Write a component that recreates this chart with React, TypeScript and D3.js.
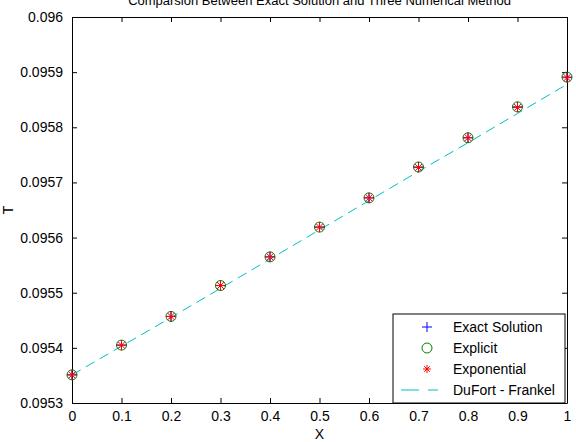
import React, { useEffect, useRef } from 'react'
import * as d3 from 'd3'

const xValues = [0, 0.1, 0.2, 0.3, 0.4, 0.5, 0.6, 0.7, 0.8, 0.9, 1.0]
const exactValues = [0.095351, 0.095405, 0.095457, 0.095513, 0.095565, 0.095619, 0.095672, 0.095728, 0.095781, 0.095837, 0.095891]
const explicitValues = [0.095351, 0.095405, 0.095457, 0.095513, 0.095565, 0.095619, 0.095672, 0.095728, 0.095781, 0.095837, 0.095891]
const exponentialValues = [0.095351, 0.095405, 0.095457, 0.095513, 0.095565, 0.095619, 0.095672, 0.095727, 0.095781, 0.095836, 0.095890]
const dufortValues = [0.095351, 0.095403, 0.095455, 0.095508, 0.095561, 0.095614, 0.095667, 0.095720, 0.095772, 0.095825, 0.095878]
const xTicks = [0, 0.1, 0.2, 0.3, 0.4, 0.5, 0.6, 0.7, 0.8, 0.9, 1]
const yTicks = [0.0953, 0.0954, 0.0955, 0.0956, 0.0957, 0.0958, 0.0959, 0.096]
const legendLabels = ['Exact Solution', 'Explicit', 'Exponential', 'DuFort - Frankel']

const W = 576
const H = 442
const left = 72
const right = 567
const top = 17
const bottom = 403
const font = 'Liberation Sans, Arial, sans-serif'

function App() {
    const ref = useRef<SVGSVGElement>(null)

    useEffect(() => {
        const svg = d3.select(ref.current)
        svg.selectAll('*').remove()

        const x = d3.scaleLinear().domain([0, 1]).range([left, right])
        const y = d3.scaleLinear().domain([0.0953, 0.096]).range([bottom, top])

        svg.append('rect').attr('width', W).attr('height', H).attr('fill', '#fff')

        // title (cut off at top like the original)
        svg.append('text')
            .attr('x', (left + right) / 2).attr('y', 5)
            .attr('text-anchor', 'middle')
            .attr('font-family', font).attr('font-size', 13)
            .text('Comparsion Between Exact Solution and Three Numerical Method')

        /* axes with inward ticks on all sides */
        const fmtX = (d: number) => String(+d.toFixed(1))
        const fmtY = (d: number) => String(+d.toFixed(4))

        const axisB = d3.axisBottom(x).tickValues(xTicks).tickSizeInner(-5).tickSizeOuter(0).tickPadding(8).tickFormat(fmtX as any)
        const axisT = d3.axisTop(x).tickValues(xTicks).tickSizeInner(-5).tickSizeOuter(0).tickFormat(() => '')
        const axisL = d3.axisLeft(y).tickValues(yTicks).tickSizeInner(-5).tickSizeOuter(0).tickPadding(9).tickFormat(fmtY as any)
        const axisR = d3.axisRight(y).tickValues(yTicks).tickSizeInner(-5).tickSizeOuter(0).tickFormat(() => '')

        const gB = svg.append('g').attr('transform', `translate(0,${bottom})`).call(axisB)
        const gT = svg.append('g').attr('transform', `translate(0,${top})`).call(axisT)
        const gL = svg.append('g').attr('transform', `translate(${left},0)`).call(axisL)
        const gR = svg.append('g').attr('transform', `translate(${right},0)`).call(axisR)
        for (const g of [gB, gT, gL, gR]) {
            g.selectAll('path').attr('stroke', '#000').attr('stroke-width', 1)
            g.selectAll('line').attr('stroke', '#000')
            g.selectAll('text').attr('font-family', font).attr('font-size', 14).attr('fill', '#000')
        }

        svg.append('text')
            .attr('x', (left + right) / 2).attr('y', 439)
            .attr('text-anchor', 'middle')
            .attr('font-family', font).attr('font-size', 14)
            .text('X')
        svg.append('text')
            .attr('transform', `translate(13,${(top + bottom) / 2}) rotate(-90)`)
            .attr('text-anchor', 'middle')
            .attr('font-family', font).attr('font-size', 14)
            .text('T')

        /* DuFort - Frankel dashed line */
        const line = d3.line<number>().x((d, i) => x(xValues[i])).y((d) => y(d))
        svg.append('path')
            .attr('d', line(dufortValues))
            .attr('fill', 'none')
            .attr('stroke', '#00bfbf')
            .attr('stroke-width', 1)
            .attr('stroke-dasharray', '10,6')

        const plus = (g: any, cx: number, cy: number, r: number, c: string) => {
            g.append('line').attr('x1', cx - r).attr('x2', cx + r).attr('y1', cy).attr('y2', cy).attr('stroke', c)
            g.append('line').attr('x1', cx).attr('x2', cx).attr('y1', cy - r).attr('y2', cy + r).attr('stroke', c)
        }
        const star = (g: any, cx: number, cy: number, r: number, c: string) => {
            plus(g, cx, cy, r, c)
            const k = r * 0.7
            g.append('line').attr('x1', cx - k).attr('x2', cx + k).attr('y1', cy - k).attr('y2', cy + k).attr('stroke', c)
            g.append('line').attr('x1', cx - k).attr('x2', cx + k).attr('y1', cy + k).attr('y2', cy - k).attr('stroke', c)
        }
        const circle = (g: any, cx: number, cy: number, r: number, c: string) => {
            g.append('circle').attr('cx', cx).attr('cy', cy).attr('r', r).attr('fill', 'none').attr('stroke', c)
        }

        const marks = svg.append('g')
        xValues.forEach((xv, i) => circle(marks, x(xv), y(explicitValues[i]), 5, '#008000'))
        xValues.forEach((xv, i) => plus(marks, x(xv), y(exactValues[i]), 5, '#0000ff'))
        xValues.forEach((xv, i) => star(marks, x(xv), y(exponentialValues[i]), 5, '#ff0000'))

        /* legend */
        const lg = svg.append('g')
        lg.append('rect')
            .attr('x', 393).attr('y', 314).attr('width', right - 393 - 2).attr('height', bottom - 314)
            .attr('fill', '#fff').attr('stroke', '#000')
        const rows = [327, 348, 369, 390]
        plus(lg, 427, rows[0], 5, '#0000ff')
        circle(lg, 427, rows[1], 5, '#008000')
        star(lg, 427, rows[2], 4, '#ff0000')
        lg.append('line').attr('x1', 401).attr('x2', 438).attr('y1', rows[3]).attr('y2', rows[3])
            .attr('stroke', '#00bfbf').attr('stroke-dasharray', '18,9')
        legendLabels.forEach((t, i) => {
            lg.append('text')
                .attr('x', 453).attr('y', rows[i]).attr('dy', '0.35em')
                .attr('font-family', font).attr('font-size', 14)
                .text(t)
        })
    }, [])

    return <svg ref={ref} width={W} height={H} style={{ position: 'absolute', left: 0, top: 0 }}></svg>
}

export default App
